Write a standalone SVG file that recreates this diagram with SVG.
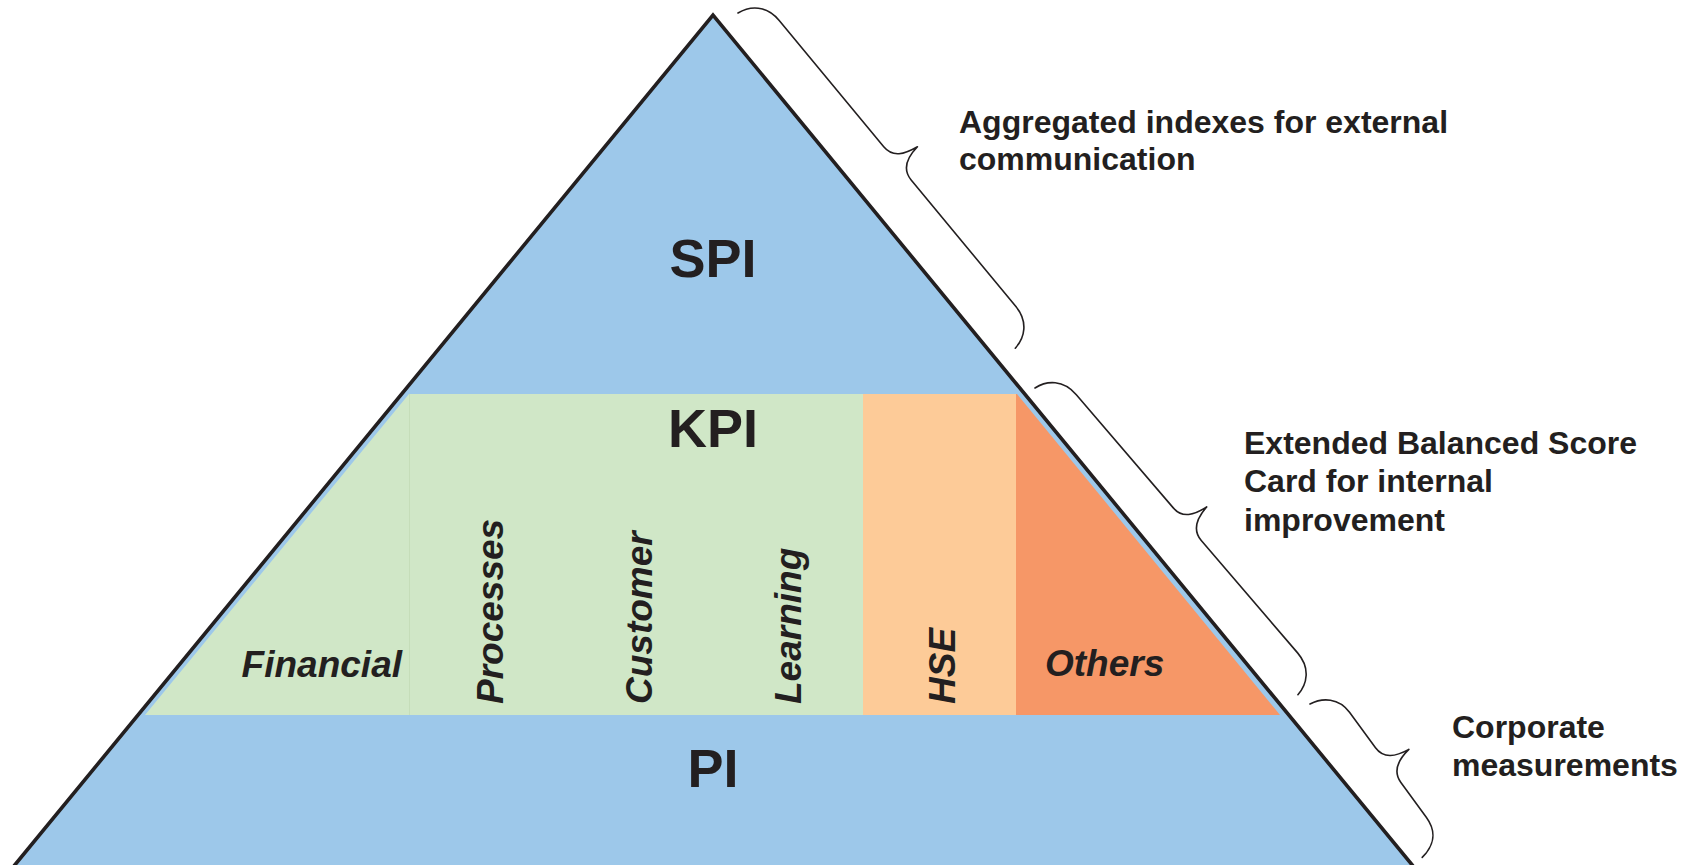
<svg xmlns="http://www.w3.org/2000/svg" width="1686" height="865" viewBox="0 0 1686 865">
  <style>
    .bg { fill: #ffffff; }
    .blue { fill: #9dc8ea; }
    .green { fill: #d0e7c7; }
    .peach { fill: #fdcb98; }
    .orange { fill: #f69767; }
    .outline { fill: none; stroke: #231f20; stroke-width: 3.6; stroke-linejoin: miter; }
    .seam { stroke: #c5ddb9; stroke-width: 1; }
    .brace { fill: none; stroke: #231f20; stroke-width: 1.6; stroke-linecap: round; stroke-linejoin: round; }
    .level { font-family: "Liberation Sans", Arial, sans-serif; font-weight: bold; font-size: 54px; fill: #231f20; text-anchor: middle; }
    .cat { font-family: "Liberation Sans", Arial, sans-serif; font-weight: bold; font-style: italic; font-size: 37px; fill: #231f20; }
    .note { font-family: "Liberation Sans", Arial, sans-serif; font-weight: bold; font-size: 32px; fill: #231f20; }
  </style>

  <rect class="bg" x="0" y="0" width="1686" height="865"/>

  <!-- pyramid body -->
  <g id="pyramid">
    <polygon class="blue" points="713,15 1413,866 13,866"/>
  </g>

  <!-- top tier -->
  <g id="spi">
    <text class="level" x="713" y="277">SPI</text>
  </g>

  <!-- middle tier: balanced score card columns -->
  <g id="kpi">
    <polygon class="green" points="409,394 863,394 863,715 145,715"/>
    <rect class="peach" x="863" y="394" width="153" height="321"/>
    <polygon class="orange" points="1016,394 1017,394 1280,715 1016,715"/>
    <line class="seam" x1="409.5" y1="394" x2="409.5" y2="715"/>
    <text class="level" x="713" y="447">KPI</text>
  </g>

  <g id="financial">
    <text class="cat" x="402" y="677" text-anchor="end">Financial</text>
  </g>
  <g id="processes">
    <text class="cat" transform="translate(503,704) rotate(-90)">Processes</text>
  </g>
  <g id="customer">
    <text class="cat" transform="translate(652,704) rotate(-90)">Customer</text>
  </g>
  <g id="learning">
    <text class="cat" transform="translate(801,704) rotate(-90)">Learning</text>
  </g>
  <g id="hse">
    <text class="cat" transform="translate(955,704) rotate(-90)">HSE</text>
  </g>
  <g id="others">
    <text class="cat" x="1045" y="676">Others</text>
  </g>

  <!-- bottom tier -->
  <g id="pi">
    <text class="level" x="713" y="787">PI</text>
  </g>

  <!-- pyramid outline drawn over the fills -->
  <path class="outline" d="M14,866 L713,15 L1413,866"/>

  <!-- curly braces along the right flank -->
  <g id="braces">
    <path class="brace" transform="translate(738,13) rotate(50.4)"
          d="M0,0 C2,-14 12,-27 32,-27 L196,-27 C210,-27 215,-38 217.5,-53 C219,-39 225,-27 239,-27 L403,-27 C423,-27 433,-14 435,0"/>
    <path class="brace" transform="translate(1035,388) rotate(49.4)"
          d="M0,0 C2,-14 12,-27 32,-27 L181,-27 C195,-27 200,-38 202,-53 C204,-39 210,-27 224,-27 L372,-27 C392,-27 402,-14 404,0"/>
    <path class="brace" transform="translate(1310,704) rotate(53.8)"
          d="M0,0 C2,-14 12,-27 30,-27 L74,-27 C88,-27 93,-38 95,-53 C97,-39 103,-27 117,-27 L160,-27 C180,-27 188,-14 190,0"/>
  </g>

  <!-- tier descriptions -->
  <g id="note-spi">
    <text class="note" x="959" y="133">Aggregated indexes for external</text>
    <text class="note" x="959" y="170">communication</text>
  </g>
  <g id="note-kpi">
    <text class="note" x="1244" y="454">Extended Balanced Score</text>
    <text class="note" x="1244" y="492">Card for internal</text>
    <text class="note" x="1244" y="531">improvement</text>
  </g>
  <g id="note-pi">
    <text class="note" x="1452" y="738">Corporate</text>
    <text class="note" x="1452" y="776">measurements</text>
  </g>
</svg>
